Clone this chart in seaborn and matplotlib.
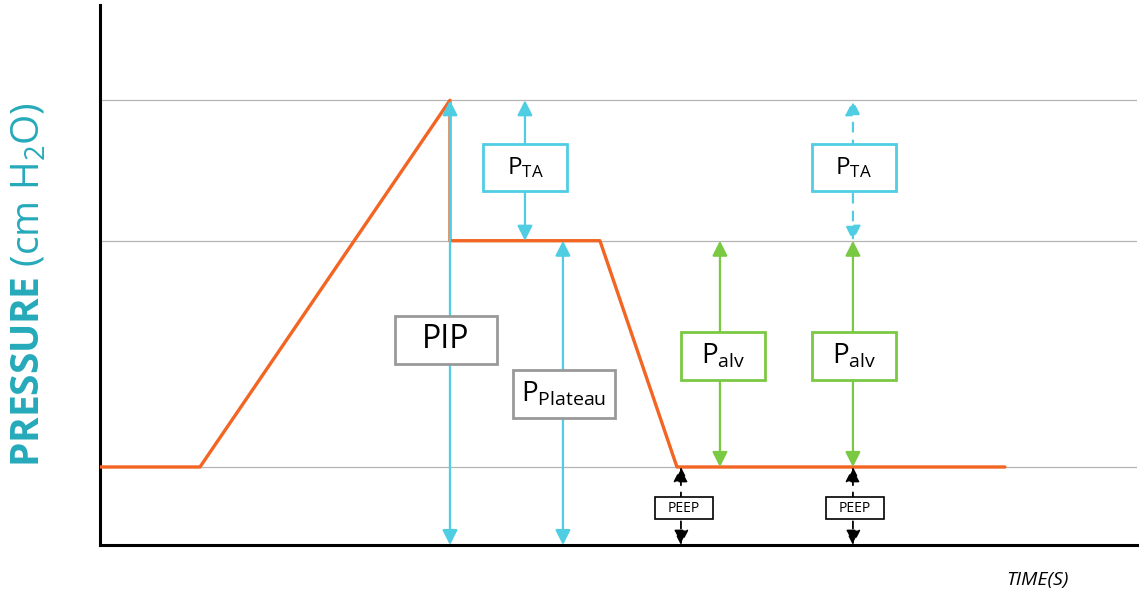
import pandas as pd
import matplotlib.pyplot as plt
import seaborn as sns
from matplotlib.patches import Rectangle

sns.set_theme(style='white')
plt.rcParams['font.family'] = ['Open Sans', 'DejaVu Sans']
plt.rcParams['mathtext.fontset'] = 'custom'
plt.rcParams['mathtext.rm'] = 'Open Sans'
plt.rcParams['mathtext.bf'] = 'Open Sans:bold'
plt.rcParams['mathtext.it'] = 'Open Sans:italic'

# pressure levels (cm H2O)
peep = 5.0
p_plateau = 19.5
pip = 28.5

# pressure trace over time
time = [0, 1.0, 3.5, 3.5, 5.0, 5.77, 9.05]
pressure = [peep, peep, pip, p_plateau, p_plateau, peep, peep]

# double arrows: x position, low, high, colour, dashed
arrow_x = [3.5, 4.63, 4.25, 7.53, 6.2, 7.53, 5.81, 7.53]
arrow_lo = [0, 0, p_plateau, p_plateau, peep, peep, 0, 0]
arrow_hi = [pip, p_plateau, pip, pip, p_plateau, p_plateau, peep, peep]
arrow_col = ['#4fcde3'] * 4 + ['#7ac943'] * 2 + ['black'] * 2
arrow_dash = [False, False, False, True, False, False, True, True]

# labels: text, centre x, centre y, box w, box h, colour, size
lab_text = ['PIP', r'P$_{\mathrm{Plateau}}$', r'P$_{\mathrm{TA}}$', r'P$_{\mathrm{TA}}$',
            r'P$_{\mathrm{alv}}$', r'P$_{\mathrm{alv}}$', 'PEEP', 'PEEP']
lab_x = [3.46, 4.64, 4.25, 7.54, 6.23, 7.54, 5.84, 7.55]
lab_y = [13.14, 9.68, 24.17, 24.17, 12.12, 12.12, 2.37, 2.37]
lab_w = [1.02, 1.02, 0.84, 0.84, 0.84, 0.84, 0.58, 0.58]
lab_h = [3.08, 3.08, 3.0, 3.0, 3.08, 3.08, 1.47, 1.47]
lab_col = ['#999999', '#999999', '#4fcde3', '#4fcde3', '#7ac943', '#7ac943', 'black', 'black']
lab_size = [23, 20, 17.5, 17.5, 20, 20, 10, 10]

df = pd.DataFrame({'time': time, 'pressure': pressure})

fig = plt.figure(figsize=(11.4, 5.92), dpi=100)
ax = fig.add_axes([0.0877, 0.0794, 0.9096, 0.912])
ax.set_xlim(0, 10.37)
ax.set_ylim(0, 34.6)

for lvl in [peep, p_plateau, pip]:
    ax.axhline(lvl, color='#b5b5b5', lw=0.9, zorder=1)

sns.lineplot(data=df, x='time', y='pressure', sort=False, estimator=None,
             color='#f26522', lw=2.4, ax=ax, zorder=3)

for x, lo, hi, c, d in zip(arrow_x, arrow_lo, arrow_hi, arrow_col, arrow_dash):
    ax.annotate('', xy=(x, hi), xytext=(x, lo),
                arrowprops=dict(arrowstyle='<|-|>,head_length=0.75,head_width=0.38',
                                color=c, lw=1.6 if c != 'black' else 1.3,
                                linestyle=(0, (4, 4)) if d else '-',
                                shrinkA=0, shrinkB=0),
                zorder=4)

for t, x, y, w, h, c, s in zip(lab_text, lab_x, lab_y, lab_w, lab_h, lab_col, lab_size):
    ax.add_patch(Rectangle((x - w / 2, y - h / 2), w, h, facecolor='white',
                           edgecolor=c, lw=2 if c != 'black' else 1.2, zorder=5))
    ax.text(x, y, t, ha='center', va='center', fontsize=s, color='black', zorder=6)

ax.text(-0.068, 0.144, r'$\mathbf{PRESSURE}$ (cm H$_2$O)', transform=ax.transAxes,
        rotation=90, ha='center', va='bottom', fontsize=28, color='#25a9b9')
ax.text(0.904, -0.065, 'TIME(S)', transform=ax.transAxes, ha='center', va='center',
        fontsize=14, style='italic', color='black')

sns.despine(ax=ax)
for sp in ['left', 'bottom']:
    ax.spines[sp].set_color('black')
    ax.spines[sp].set_linewidth(2.2)
ax.set_xticks([])
ax.set_yticks([])
ax.set_xlabel('')
ax.set_ylabel('')

fig.savefig('out.png', dpi=100)
